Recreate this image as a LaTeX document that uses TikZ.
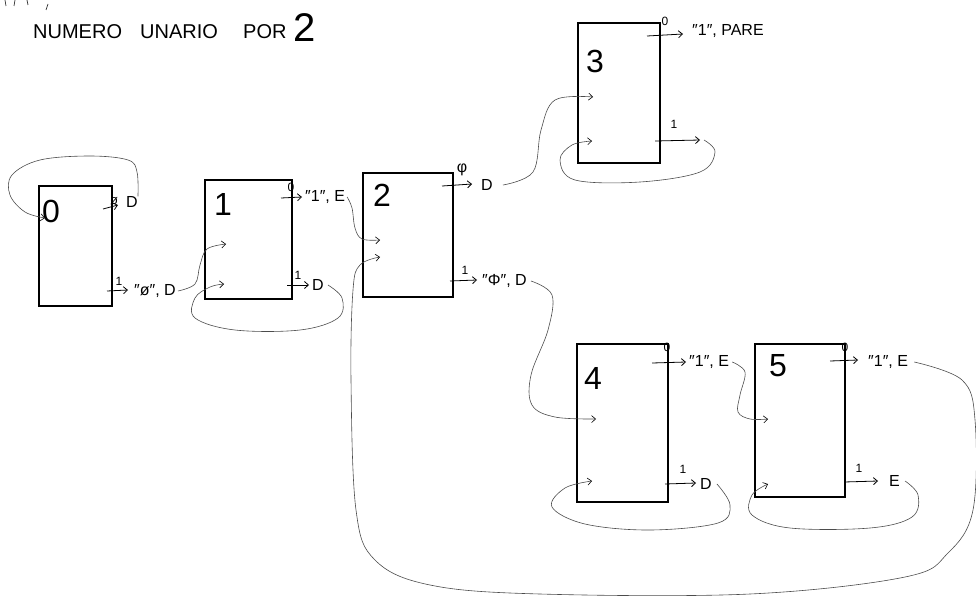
\documentclass[tikz,border=0pt]{standalone}
\usepackage{fontspec}
\setmainfont{Liberation Sans}
\usetikzlibrary{arrows.meta}
\newcommand{\qd}{″}
\begin{document}
\begin{tikzpicture}[x=1pt,y=-1pt]
\tikzset{
 statebox/.style={draw=black, line width=1.2pt, inner sep=0pt, outer sep=0pt},
 num/.style={font=\fontsize{32}{32}\selectfont, inner sep=0pt},
 lab/.style={font=\fontsize{16}{16}\selectfont, inner sep=0pt, anchor=west},
 sym/.style={font=\fontsize{12}{12}\selectfont, inner sep=0pt},
 tr/.style={line width=0.8pt, -{Straight Barb[length=4pt,width=7pt]}},
 curve/.style={line width=0.6pt, draw=black!70, -{Straight Barb[length=4pt,width=7pt,black]}},
 ttl/.style={font=\fontsize{20}{20}\selectfont, inner sep=0pt, anchor=west},
 frag/.style={line width=0.7pt, draw=black!80},
}
\useasboundingbox (0,0) rectangle (976,599);

% top-left fragments
\draw[frag] (5,0) -- (6,6);
\draw[frag] (15,0) -- (14,6);
\draw[frag] (27,0) -- (28,5);
\draw[frag] (48,4) -- (46,10);

% title
\node[ttl] (t1) at (33,32) {NUMERO};
\node[ttl] (t2) at (140,32) {UNARIO};
\node[ttl] (t3) at (243,32) {POR};
\node[font=\fontsize{40}{40}\selectfont, inner sep=0pt, anchor=west] (t4) at (293,28) {2};

% states
\node[statebox, minimum width=73pt, minimum height=120pt] (b0) at (75.5,246) {};
\node[statebox, minimum width=87pt, minimum height=119pt] (b1) at (248.5,239.5) {};
\node[statebox, minimum width=90pt, minimum height=124pt] (b2) at (408,235) {};
\node[statebox, minimum width=82pt, minimum height=140pt] (b3) at (619,93) {};
\node[statebox, minimum width=91pt, minimum height=158pt] (b4) at (622.5,423) {};
\node[statebox, minimum width=90pt, minimum height=153pt] (b5) at (800,420.5) {};

\node[num] (n0) at (51,211) {0};
\node[num] (n1) at (223,204) {1};
\node[num] (n2) at (382,195) {2};
\node[num] (n3) at (595,61) {3};
\node[num] (n4) at (593,378) {4};
\node[num] (n5) at (778,366) {5};

% state 0
\coordinate (a0ua) at (103,209); \coordinate (a0ub) at (118,205);
\draw[tr] (a0ua) -- (a0ub);
\node[sym, font=\fontsize{13}{13}\selectfont] (s0u) at (114,201) {ø};
\node[lab] (l0u) at (126,202) {D};
\coordinate (a0la) at (107,291); \coordinate (a0lb) at (128,290);
\draw[tr] (a0la) -- (a0lb);
\node[sym] (s0l) at (119,281) {1};
\node[lab] (l0l) at (134,291) {\qd ø\qd, D};

% state 1
\coordinate (a1ua) at (281,198); \coordinate (a1ub) at (302,197);
\draw[tr] (a1ua) -- (a1ub);
\node[sym] (s1u) at (291,187) {0};
\node[lab] (l1u) at (305,197) {\qd 1\qd, E};
\coordinate (a1la) at (287,285); \coordinate (a1lb) at (309,285);
\draw[tr] (a1la) -- (a1lb);
\node[sym] (s1l) at (298,275) {1};
\node[lab] (l1l) at (312,285) {D};

% state 2
\coordinate (a2ua) at (442,186); \coordinate (a2ub) at (472,184);
\draw[tr] (a2ua) -- (a2ub);
\node[sym, font=\fontsize{16}{16}\selectfont] (s2u) at (462,170) {φ};
\node[lab] (l2u) at (481,185) {D};
\coordinate (a2la) at (450,281); \coordinate (a2lb) at (477,280);
\draw[tr] (a2la) -- (a2lb);
\node[sym] (s2l) at (465,270) {1};
\node[lab] (l2l) at (482,281) {\qd Φ\qd, D};

% state 3
\coordinate (a3ua) at (647,36); \coordinate (a3ub) at (683,34);
\draw[tr] (a3ua) -- (a3ub);
\node[sym] (s3u) at (665,21) {0};
\node[lab] (l3u) at (692,31) {\qd 1\qd, PARE};
\coordinate (a3la) at (655,141); \coordinate (a3lb) at (700,140);
\draw[tr] (a3la) -- (a3lb);
\node[sym] (s3l) at (674,124) {1};

% state 4
\coordinate (a4ua) at (652,363); \coordinate (a4ub) at (686,362);
\draw[tr] (a4ua) -- (a4ub);
\node[sym] (s4u) at (667,347) {0};
\node[lab] (l4u) at (689,362) {\qd 1\qd, E};
\coordinate (a4la) at (665,484); \coordinate (a4lb) at (696,483);
\draw[tr] (a4la) -- (a4lb);
\node[sym] (s4l) at (683,469) {1};
\node[lab] (l4l) at (700,484) {D};

% state 5
\coordinate (a5ua) at (830,361); \coordinate (a5ub) at (858,360);
\draw[tr] (a5ua) -- (a5ub);
\node[sym] (s5u) at (845,347) {0};
\node[lab] (l5u) at (868,362) {\qd 1\qd, E};
\coordinate (a5la) at (844,482); \coordinate (a5lb) at (878,481);
\draw[tr] (a5la) -- (a5lb);
\node[sym] (s5l) at (859,468) {1};
\node[lab] (l5l) at (889,481) {E};

% entry points
\coordinate (e0) at (45,218);
\coordinate (e1a) at (226,244);
\coordinate (e1b) at (224,284);
\coordinate (e2a) at (380,240);
\coordinate (e2b) at (380,257);
\coordinate (e3a) at (593,97);
\coordinate (e3b) at (592,141);
\coordinate (e4a) at (596,419);
\coordinate (e4b) at (592,481);
\coordinate (e5a) at (768,419);
\coordinate (e5b) at (768,484);

% curves
\draw[curve] plot[smooth, tension=0.6] coordinates {(l0u.north east) (137,172) (128,160) (90,156) (40,160) (12,175) (10,195) (25,212) (e0)};
\draw[curve] plot[smooth, tension=0.6] coordinates {([xshift=2pt]l0l.east) (195,284) (200,265) (207,249) (e1a)};
\draw[curve] plot[smooth, tension=0.6] coordinates {([xshift=2pt]l1u.east) (352,208) (355,228) (362,239) (e2a)};
\draw[curve] plot[smooth, tension=0.6] coordinates {([xshift=4pt]l1l.east) (342,298) (338,318) (300,330) (235,330) (195,318) (195,298) (210,287) (e1b)};
\draw[curve] plot[smooth, tension=0.6] coordinates {([xshift=10pt]l2u.east) (533,172) (541,130) (555,100) (e3a)};
\draw[curve] plot[smooth, tension=0.6] coordinates {([xshift=4pt]l2l.east) (552,295) (548,330) (531,375) (532,405) (555,417) (e4a)};
\draw[curve] plot[smooth, tension=0.6] coordinates {([xshift=4pt]a3lb) (715,152) (700,172) (640,182) (575,180) (560,160) (572,145) (e3b)};
\draw[curve] plot[smooth, tension=0.6] coordinates {([xshift=3pt]l4u.east) (745,372) (740,395) (738,412) (750,419) (e5a)};
\draw[curve] plot[smooth, tension=0.6] coordinates {([xshift=5pt]l4l.east) (730,505) (718,523) (650,530) (585,524) (552,507) (565,488) (e4b)};
\draw[curve] plot[smooth, tension=0.6] coordinates {([xshift=6pt]l5u.east) (962,380) (975,420) (973,510) (948,553) (905,577) (750,594) (540,594) (430,585) (375,560) (356,510) (351,380) (353,290) (360,265) (e2b)};
\draw[curve] plot[smooth, tension=0.6] coordinates {([xshift=5pt]l5l.east) (918,495) (912,517) (870,528) (790,528) (752,515) (752,495) (e5b)};
\end{tikzpicture}
\end{document}
